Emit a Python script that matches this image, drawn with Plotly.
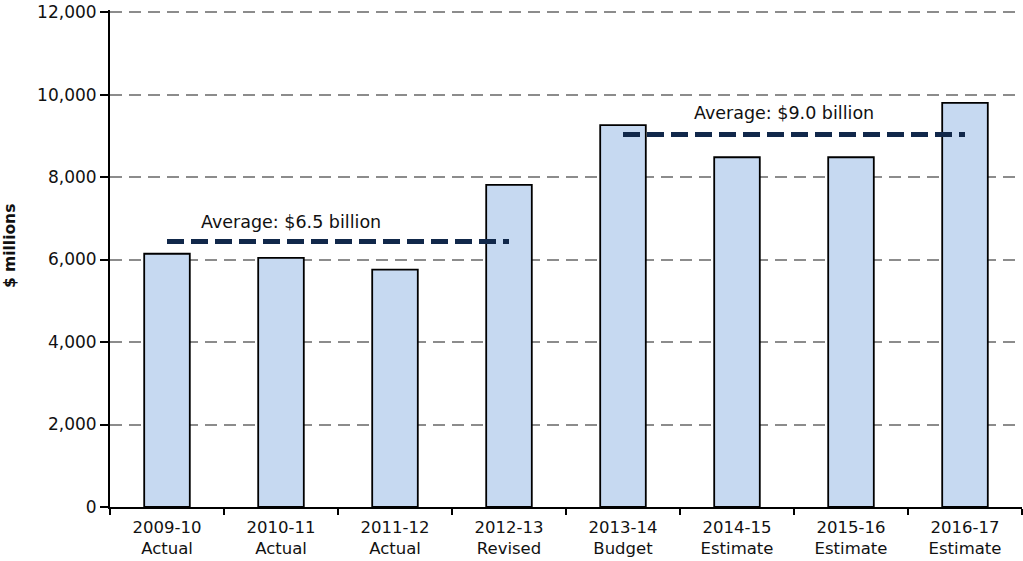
import plotly.graph_objects as go

years = ["2009-10", "2010-11", "2011-12", "2012-13", "2013-14", "2014-15", "2015-16", "2016-17"]
kinds = ["Actual", "Actual", "Actual", "Revised", "Budget", "Estimate", "Estimate", "Estimate"]
values = [6140, 6040, 5755, 7810, 9260, 8480, 8480, 9800]
avg1_value = 6440
avg2_value = 9030
avg1_label = "Average: $6.5 billion"
avg2_label = "Average: $9.0 billion"
y_title = "$ millions"
y_ticks = [0, 2000, 4000, 6000, 8000, 10000, 12000]

cats = [f"{y}<br>{k}" for y, k in zip(years, kinds)]

fig = go.Figure()
fig.add_trace(go.Bar(
    x=cats, y=values,
    marker=dict(color="#C6D9F1", line=dict(color="#000000", width=1.8)),
    width=0.4, showlegend=False, hoverinfo="skip",
))
navy = "#11284A"
fig.add_trace(go.Scatter(
    x=cats[0:4], y=[avg1_value] * 4, mode="lines",
    line=dict(color=navy, width=5, dash="17px,7px"), showlegend=False,
))
fig.add_trace(go.Scatter(
    x=cats[4:8], y=[avg2_value] * 4, mode="lines",
    line=dict(color=navy, width=5, dash="17px,7px"), showlegend=False,
))

font_family = "DejaVu Sans"
fig.add_annotation(x=1.09, y=6920, text=avg1_label, showarrow=False,
                   font=dict(family=font_family, size=17.5, color="#111111"), xref="x", yref="y")
fig.add_annotation(x=5.41, y=9550, text=avg2_label, showarrow=False,
                   font=dict(family=font_family, size=17.5, color="#111111"), xref="x", yref="y")
fig.add_annotation(x=-0.1096, y=0.525, xref="paper", yref="paper", text=f"<b>{y_title}</b>",
                   textangle=-90, showarrow=False, xanchor="center", yanchor="middle",
                   font=dict(family=font_family, size=15.5, color="#111111"))

fig.update_layout(
    width=1023, height=561,
    margin=dict(l=110, r=1, t=10, b=54),
    plot_bgcolor="white", paper_bgcolor="white",
    font=dict(family=font_family, size=16, color="#111111"),
    bargap=0.6,
)
fig.update_xaxes(
    automargin=False,
    showline=True, linecolor="#000000", linewidth=2,
    ticks="outside", ticklen=6, tickwidth=1.5, tickcolor="#000000",
    tickson="boundaries", showgrid=False,
    ticklabelstandoff=4,
    tickfont=dict(family=font_family, size=16.5),
)
fig.update_yaxes(
    automargin=False,
    range=[0, 12050], tickvals=y_ticks, tickformat=",d",
    ticklabeloverflow="allow",
    showline=True, linecolor="#000000", linewidth=2,
    ticks="outside", ticklen=8, tickwidth=1.5, tickcolor="#000000",
    showgrid=True, gridcolor="#8C8C8C", gridwidth=1.8, griddash="12px,7px",
    zeroline=False,
    tickfont=dict(family=font_family, size=17),
)
fig.write_html("out.html", config={"displayModeBar": False},
               post_script="document.body.style.margin='0';")
